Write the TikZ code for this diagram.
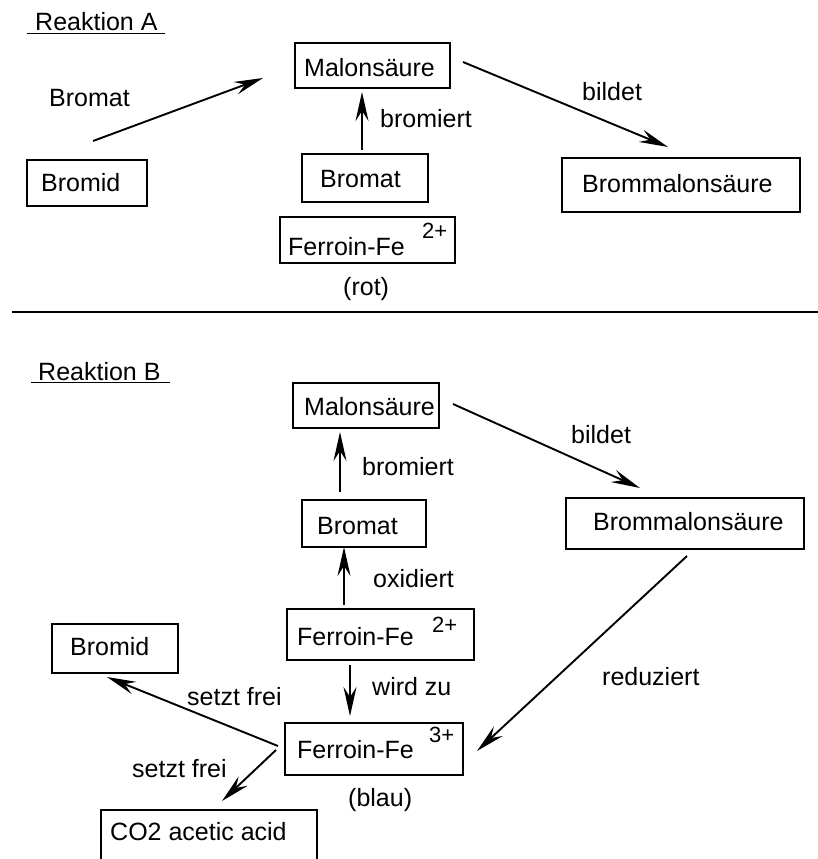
\documentclass[tikz,border=0pt]{standalone}
\usepackage{fontspec}
\setmainfont{Liberation Sans}
\usetikzlibrary{arrows.meta}
\begin{document}
\begin{tikzpicture}[x=1pt,y=-1pt,
  box/.style={draw,line width=1.9pt,rectangle,inner sep=0pt},
  txt/.style={anchor=base west,inner sep=0pt,font=\fontsize{25}{30}\selectfont},
  sup/.style={anchor=base west,inner sep=0pt,font=\fontsize{22}{26}\selectfont},
  conn/.style={line width=1.9pt,-{Stealth[length=29pt,width=13pt,inset=10pt]}}]
\useasboundingbox (0,0) rectangle (818,859);
% ---------- Reaktion A ----------
\node[txt] (ra) at (35,31) {Reaktion A};
\draw[line width=1.5pt] (27,33.5) -- (165,33.5);
\node[box,minimum width=155pt,minimum height=45pt] (malA) at (372.5,65.5) {};
\node[txt] at (304,76) {Malonsäure};
\node[txt] (bromatLbl) at (49,106) {Bromat};
\node[box,minimum width=120pt,minimum height=46pt] (bromidA) at (87,183) {};
\node[txt] at (41,191) {Bromid};
\node[box,minimum width=126pt,minimum height=48pt] (bromatA) at (365,178) {};
\node[txt] at (320,187) {Bromat};
\node[box,minimum width=175pt,minimum height=46pt] (ferA) at (367.5,240) {};
\node[txt] at (288,255) {Ferroin-Fe};
\node[sup] at (422,238) {2+};
\node[txt] at (343,295) {(rot)};
\node[box,minimum width=238pt,minimum height=54pt] (brmA) at (681,185) {};
\node[txt] at (582,192) {Brommalonsäure};
\node[txt] at (380,127) {bromiert};
\node[txt] at (582,100) {bildet};
\coordinate (a1s) at (93,141); \coordinate (a1e) at (263,78);
\draw[conn] (a1s) -- (a1e);
\coordinate (a2s) at (362,150); \coordinate (a2e) at (362,92);
\draw[conn] (a2s) -- (a2e);
\coordinate (a3s) at (463,62); \coordinate (a3e) at (668,147);
\draw[conn] (a3s) -- (a3e);
% divider
\draw[line width=2.2pt] (12,312) -- (818,312);
% ---------- Reaktion B ----------
\node[txt] (rb) at (38,380) {Reaktion B};
\draw[line width=1.5pt] (31,382.5) -- (170,382.5);
\node[box,minimum width=146pt,minimum height=45pt] (malB) at (366,405.5) {};
\node[txt] at (304,415) {Malonsäure};
\node[box,minimum width=124pt,minimum height=47pt] (bromatB) at (364,523.5) {};
\node[txt] at (317,534) {Bromat};
\node[box,minimum width=187pt,minimum height=51pt] (fer2B) at (380.5,634.5) {};
\node[txt] at (297,645) {Ferroin-Fe};
\node[sup] at (432,632) {2+};
\node[box,minimum width=178pt,minimum height=52pt] (fer3B) at (374,749) {};
\node[txt] at (297,758) {Ferroin-Fe};
\node[sup] at (429,742) {3+};
\node[txt] at (348,806) {(blau)};
\node[box,minimum width=126pt,minimum height=49pt] (bromidB) at (115,648.5) {};
\node[txt] at (70,655) {Bromid};
\node[box,minimum width=238pt,minimum height=51pt] (brmB) at (685,523.5) {};
\node[txt] at (593,530) {Brommalonsäure};
\begin{scope}
\clip (0,0) rectangle (818,859);
\node[box,minimum width=216pt,minimum height=70pt] (co2) at (209,845) {};
\end{scope}
\node[txt] at (110,840) {CO2 acetic acid};
\node[txt] at (362,475) {bromiert};
\node[txt] at (373,587) {oxidiert};
\node[txt] at (372,695) {wird zu};
\node[txt] at (187,705) {setzt frei};
\node[txt] at (132,777) {setzt frei};
\node[txt] at (571,443) {bildet};
\node[txt] at (602,685) {reduziert};
\coordinate (b1s) at (340,492); \coordinate (b1e) at (340,432);
\draw[conn] (b1s) -- (b1e);
\coordinate (b2s) at (344,605); \coordinate (b2e) at (344,547);
\draw[conn] (b2s) -- (b2e);
\coordinate (b3s) at (350,665); \coordinate (b3e) at (350,716);
\draw[conn] (b3s) -- (b3e);
\coordinate (b4s) at (278,746); \coordinate (b4e) at (107,677);
\draw[conn] (b4s) -- (b4e);
\coordinate (b5s) at (276,750); \coordinate (b5e) at (222,801);
\draw[conn] (b5s) -- (b5e);
\coordinate (b6s) at (453,404); \coordinate (b6e) at (640,488);
\draw[conn] (b6s) -- (b6e);
\coordinate (b7s) at (687,556); \coordinate (b7e) at (477,751);
\draw[conn] (b7s) -- (b7e);
\end{tikzpicture}
\end{document}
